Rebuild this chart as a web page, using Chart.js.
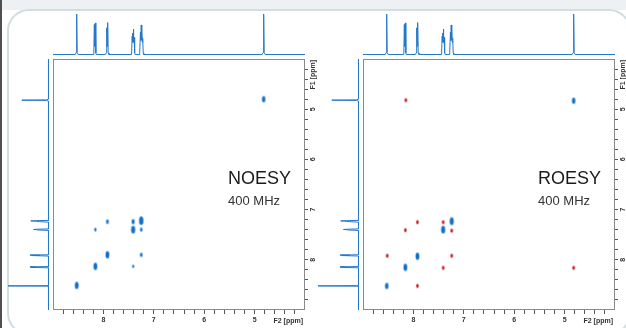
<!DOCTYPE html>
<html>
<head>
<meta charset="utf-8">
<script src="https://cdn.jsdelivr.net/npm/chart.js@4.4.1/dist/chart.umd.min.js"></script>
<style>
  body { margin: 0; width: 626px; height: 328px; overflow: hidden; background: #fff; position: relative; }
  .strip { position: absolute; left: 0; top: 0; width: 626px; height: 10px; background: #eef1f3; }
  .card { position: absolute; left: 7px; top: 9px; width: 620px; height: 322px; border: 2px solid #d3dcdf; border-radius: 22px; background: #fff; }
  .edge { position: absolute; left: 0; top: 0; width: 2px; height: 328px; background: #505050; }
  canvas { position: absolute; }
</style>
</head>
<body>
<div class="strip"></div>
<div class="card"></div>
<div class="edge"></div>

<canvas id="noesyTop" width="252" height="47" style="left:53px;top:10px"></canvas>
<canvas id="noesyLeft" width="51" height="251" style="left:0px;top:59px"></canvas>
<canvas id="noesy2d" width="277" height="269" style="left:53px;top:59px"></canvas>

<canvas id="roesyTop" width="252" height="47" style="left:363px;top:10px"></canvas>
<canvas id="roesyLeft" width="51" height="251" style="left:310px;top:59px"></canvas>
<canvas id="roesy2d" width="277" height="269" style="left:363px;top:59px"></canvas>

<script>
const family = '"Liberation Sans", Arial, sans-serif';

// ppm window of both dimensions, tick step
const ppmMin = 4, ppmMax = 9, tickStep = 0.2;

// 1D proton spectrum on top (F2), [ppm, relative intensity]
const spectrumTop = [
  [9.00, 0], [8.56, 0], [8.54, 0.05], [8.53, 1.00], [8.52, 0.05], [8.50, 0],
  [8.20, 0], [8.19, 0.04], [8.18, 0.74], [8.17, 0.20], [8.16, 0.78], [8.15, 0.04], [8.14, 0],
  [7.96, 0], [7.945, 0.04], [7.935, 0.66], [7.925, 0.20], [7.915, 0.79], [7.905, 0.04], [7.89, 0],
  [7.45, 0], [7.44, 0.04], [7.43, 0.45], [7.423, 0.30], [7.417, 0.53], [7.41, 0.35], [7.405, 0.63], [7.398, 0.30], [7.39, 0.42], [7.38, 0.04], [7.37, 0],
  [7.29, 0], [7.28, 0.04], [7.265, 0.55], [7.258, 0.35], [7.25, 0.73], [7.243, 0.35], [7.235, 0.60], [7.228, 0.30], [7.22, 0.40], [7.21, 0.04], [7.20, 0],
  [4.85, 0], [4.83, 0.05], [4.82, 1.00], [4.81, 0.05], [4.79, 0], [4.00, 0]
];

// 1D projection on the left (F1), [ppm, relative intensity]
const spectrumLeft = [
  [4.00, 0], [4.80, 0], [4.815, 0.05], [4.82, 0.66], [4.825, 0.05], [4.84, 0],
  [7.215, 0], [7.22, 0.30], [7.225, 0.44], [7.23, 0.34], [7.235, 0.30], [7.24, 0.22], [7.25, 0],
  [7.385, 0], [7.39, 0.24], [7.395, 0.37], [7.40, 0.30], [7.405, 0.28], [7.415, 0],
  [7.90, 0], [7.905, 0.46], [7.91, 0.22], [7.915, 0.42], [7.925, 0],
  [8.135, 0], [8.14, 0.46], [8.145, 0.32], [8.15, 0.44], [8.16, 0],
  [8.51, 0], [8.515, 0.05], [8.52, 1.00], [8.525, 0.05], [8.53, 0], [9.00, 0]
];

// NOESY cross peaks: F2, F1, relative volume
const noesyBlueF2 = [8.53, 8.16, 7.92, 7.41, 7.25, 7.92, 8.16, 7.41, 7.25, 7.25, 7.41, 4.82];
const noesyBlueF1 = [8.51, 8.13, 7.90, 7.40, 7.22, 7.24, 7.40, 7.24, 7.40, 7.90, 8.13, 4.80];
const noesyBlueV  = [3.5, 3.5, 3.5, 4.0, 4.5, 1.8, 1.0, 2.2, 1.4, 1.6, 0.8, 3.0];
const noesyRedF2 = [8.53];
const noesyRedF1 = [8.51];
const noesyRedV  = [0.6];

// ROESY cross peaks: F2, F1, relative volume
const roesyBlueF2 = [8.53, 8.16, 7.92, 7.41, 7.24, 4.82];
const roesyBlueF1 = [8.52, 8.15, 7.93, 7.40, 7.23, 4.83];
const roesyBlueV  = [3.0, 3.5, 3.5, 4.0, 4.0, 3.0];
const roesyRedF2 = [8.15, 7.92, 7.41, 8.16, 7.24, 8.52, 7.24, 7.41, 4.82, 7.92];
const roesyRedF1 = [4.82, 7.25, 7.25, 7.41, 7.42, 7.92, 7.92, 8.16, 8.16, 8.52];
const roesyRedV  = [1.3, 1.3, 1.3, 1.3, 1.3, 1.3, 1.3, 1.3, 1.3, 1.3];

const lineBlue = '#2478c8';

// small elliptical contour blob used as point style
function blob(v, fill, halo) {
  const w = 1 + 0.6 * v, h = 1.5 + 1.4 * v;
  const c = document.createElement('canvas');
  c.width = Math.ceil(w + 3); c.height = Math.ceil(h + 3);
  const g = c.getContext('2d');
  g.fillStyle = halo;
  g.beginPath(); g.ellipse(c.width / 2, c.height / 2, w / 2 + 0.7, h / 2 + 0.7, 0, 0, Math.PI * 2); g.fill();
  g.fillStyle = fill;
  g.beginPath(); g.ellipse(c.width / 2, c.height / 2, w / 2, h / 2, 0, 0, Math.PI * 2); g.fill();
  return c;
}

const baseOpts = {
  responsive: false,
  animation: false,
  events: [],
  layout: { padding: 0, autoPadding: false },
  plugins: { legend: { display: false }, tooltip: { enabled: false } }
};

// intensity axes start slightly below zero so the baseline sits on a pixel centre
function makeTop(id) {
  new Chart(document.getElementById(id), {
    type: 'scatter',
    data: { datasets: [{
      data: spectrumTop.map(p => ({ x: p[0], y: p[1] })),
      showLine: true, borderColor: lineBlue, borderWidth: 1, pointRadius: 0
    }] },
    options: Object.assign({}, baseOpts, {
      scales: {
        x: { type: 'linear', display: false, reverse: true, min: ppmMin, max: ppmMax },
        y: { type: 'linear', display: false, min: -0.0618, max: 1.1 }
      }
    })
  });
}

function makeLeft(id) {
  new Chart(document.getElementById(id), {
    type: 'scatter',
    data: { datasets: [{
      data: spectrumLeft.map(p => ({ x: p[1], y: p[0] })),
      showLine: true, borderColor: lineBlue, borderWidth: 1, pointRadius: 0
    }] },
    options: Object.assign({}, baseOpts, {
      scales: {
        x: { type: 'linear', display: false, reverse: true, min: -0.0619, max: 1.2 },
        y: { type: 'linear', display: false, reverse: true, min: ppmMin, max: ppmMax }
      }
    })
  });
}

const trimEdges = s => { s.ticks = s.ticks.filter(t => t.value > ppmMin + 0.05 && t.value < ppmMax - 0.05); };
const wholeOnly = v => Math.abs(v - Math.round(v)) < 1e-6 ? String(Math.round(v)) : '';
const tickFont = { size: 7, weight: 'bold', family: family };

// frame, axis names and experiment label
const framePlugin = {
  id: 'frame',
  afterDraw(chart, args, opts) {
    const { ctx, chartArea: a } = chart;
    ctx.save();
    ctx.strokeStyle = '#8a8a8a';
    ctx.lineWidth = 1;
    ctx.strokeRect(a.left + 0.5, a.top + 0.5, a.right - a.left - 1, a.bottom - a.top - 1);

    ctx.fillStyle = '#333';
    ctx.font = 'bold 7px ' + family;
    ctx.textAlign = 'right';
    ctx.textBaseline = 'alphabetic';
    ctx.fillText('F2 [ppm]', a.right - 2, a.bottom + 13);

    ctx.save();
    ctx.translate(a.right + 8, a.top + 1);
    ctx.rotate(-Math.PI / 2);
    ctx.textBaseline = 'middle';
    ctx.fillText('F1 [ppm]', 0, 0);
    ctx.restore();

    ctx.textAlign = 'left';
    ctx.fillStyle = '#1a1a1a';
    ctx.font = '18px ' + family;
    ctx.fillText(opts.title, 175, 124.5);
    ctx.fillStyle = '#333';
    ctx.font = '13px ' + family;
    ctx.fillText('400 MHz', 175, 146);
    ctx.restore();
  }
};

function make2d(id, title, bx, by, bv, rx, ry, rv) {
  const pts = (xs, ys) => xs.map((x, i) => ({ x: x, y: ys[i] }));
  new Chart(document.getElementById(id), {
    type: 'scatter',
    data: { datasets: [
      { data: pts(bx, by), pointStyle: bv.map(v => blob(v, '#146ec4', '#8dbfe9')) },
      { data: pts(rx, ry), pointStyle: rv.map(v => blob(v, '#c3121b', '#e3898d')) }
    ] },
    plugins: [framePlugin],
    options: Object.assign({}, baseOpts, {
      plugins: { legend: { display: false }, tooltip: { enabled: false }, frame: { title: title } },
      scales: {
        x: {
          type: 'linear', position: 'bottom', reverse: true, min: ppmMin, max: ppmMax,
          afterBuildTicks: trimEdges,
          afterFit: s => { s.height = 18; s.paddingLeft = 0; s.paddingRight = 0; },
          ticks: { stepSize: tickStep, autoSkip: false, maxRotation: 0, padding: 2, color: '#333', font: tickFont, callback: wholeOnly },
          grid: { drawOnChartArea: false, tickLength: 4, color: '#555' },
          border: { display: false }
        },
        y: {
          type: 'linear', position: 'right', reverse: true, min: ppmMin, max: ppmMax,
          afterBuildTicks: trimEdges,
          afterFit: s => { s.width = 25; s.paddingTop = 0; s.paddingBottom = 0; },
          ticks: { stepSize: tickStep, autoSkip: false, minRotation: 90, maxRotation: 90, crossAlign: 'center', padding: 3, color: '#333', font: tickFont, callback: wholeOnly },
          grid: { drawOnChartArea: false, tickLength: 3, color: '#555' },
          border: { display: false }
        }
      }
    })
  });
}

makeTop('noesyTop');
makeLeft('noesyLeft');
make2d('noesy2d', 'NOESY', noesyBlueF2, noesyBlueF1, noesyBlueV, noesyRedF2, noesyRedF1, noesyRedV);

makeTop('roesyTop');
makeLeft('roesyLeft');
make2d('roesy2d', 'ROESY', roesyBlueF2, roesyBlueF1, roesyBlueV, roesyRedF2, roesyRedF1, roesyRedV);
</script>
</body>
</html>
